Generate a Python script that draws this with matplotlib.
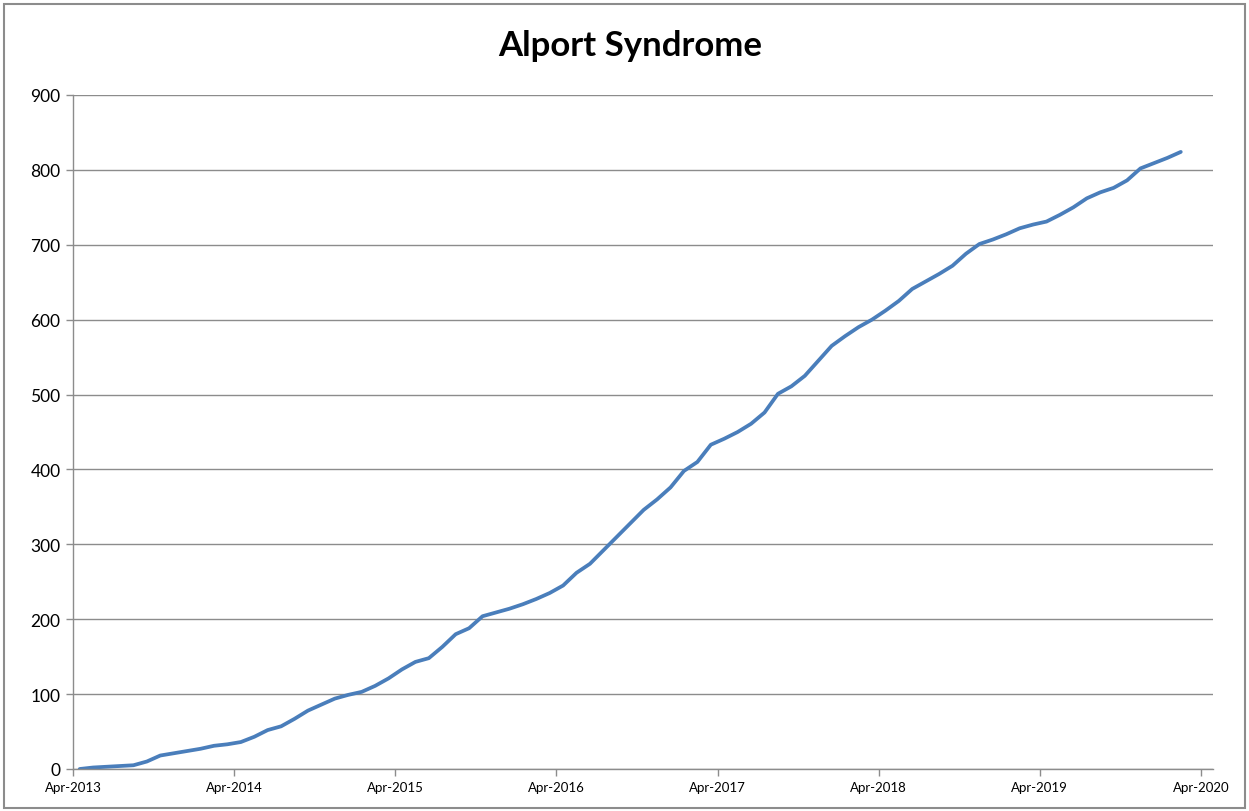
import matplotlib.pyplot as plt
from matplotlib.patches import Rectangle

# monthly cumulative count, starting Apr-2013
months = list(range(83))
counts = [0, 2, 3, 4, 5, 10, 18, 21, 24, 27, 31, 33,
          36, 43, 52, 57, 67, 78, 86, 94, 99, 103, 111, 121,
          133, 143, 148, 163, 180, 188, 204, 209, 214, 220, 227, 235,
          245, 262, 274, 292, 310, 328, 346, 360, 376, 398, 410, 433,
          441, 450, 461, 476, 501, 511, 525, 545, 565, 578, 590, 600,
          612, 625, 641, 651, 661, 672, 688, 701, 707, 714, 722, 727,
          731, 740, 750, 762, 770, 776, 786, 802, 809, 816, 824]
tick_labels = ["Apr-2013", "Apr-2014", "Apr-2015", "Apr-2016",
               "Apr-2017", "Apr-2018", "Apr-2019", "Apr-2020"]
y_ticks = [0, 100, 200, 300, 400, 500, 600, 700, 800, 900]

W, H = 1249, 812
fig = plt.figure(figsize=(W / 100, H / 100), dpi=100)
fig.patch.set_facecolor("white")

# chart area border
fig.patches.append(Rectangle((0.003, 0.004), 0.994, 0.99, transform=fig.transFigure,
                             fill=False, edgecolor="#8c8c8c", linewidth=1.5))

ax = fig.add_axes([73 / W, 42 / H, 1140 / W, 674 / H])

# points sit in the middle of each month slot, like the Excel date axis
xs = [m + 0.5 for m in months]
ax.plot(xs, counts, color="#4A7EBB", linewidth=2.7, solid_capstyle="round")

ax.set_xlim(0, 84.9)
ax.set_ylim(0, 900)
ax.set_xticks([12 * i for i in range(len(tick_labels))])
ax.set_xticklabels(tick_labels, fontsize=9.5, family="Lato")
ax.set_yticks(y_ticks)
ax.set_yticklabels([str(v) for v in y_ticks], fontsize=12.5, family="Lato")

ax.yaxis.grid(True, color="#8c8c8c", linewidth=1)
ax.set_axisbelow(True)
for side in ["top", "right"]:
    ax.spines[side].set_visible(False)
for side in ["left", "bottom"]:
    ax.spines[side].set_color("#8c8c8c")
    ax.spines[side].set_linewidth(1)
ax.tick_params(axis="both", direction="out", length=5, color="#8c8c8c", width=1)
ax.tick_params(axis="y", pad=4)
ax.tick_params(axis="x", pad=4)

fig.text(630 / W, 1 - 46 / H, "Alport Syndrome", ha="center", va="center",
         fontsize=25, fontweight="bold", family="Lato")

fig.savefig("out.png", dpi=100)
